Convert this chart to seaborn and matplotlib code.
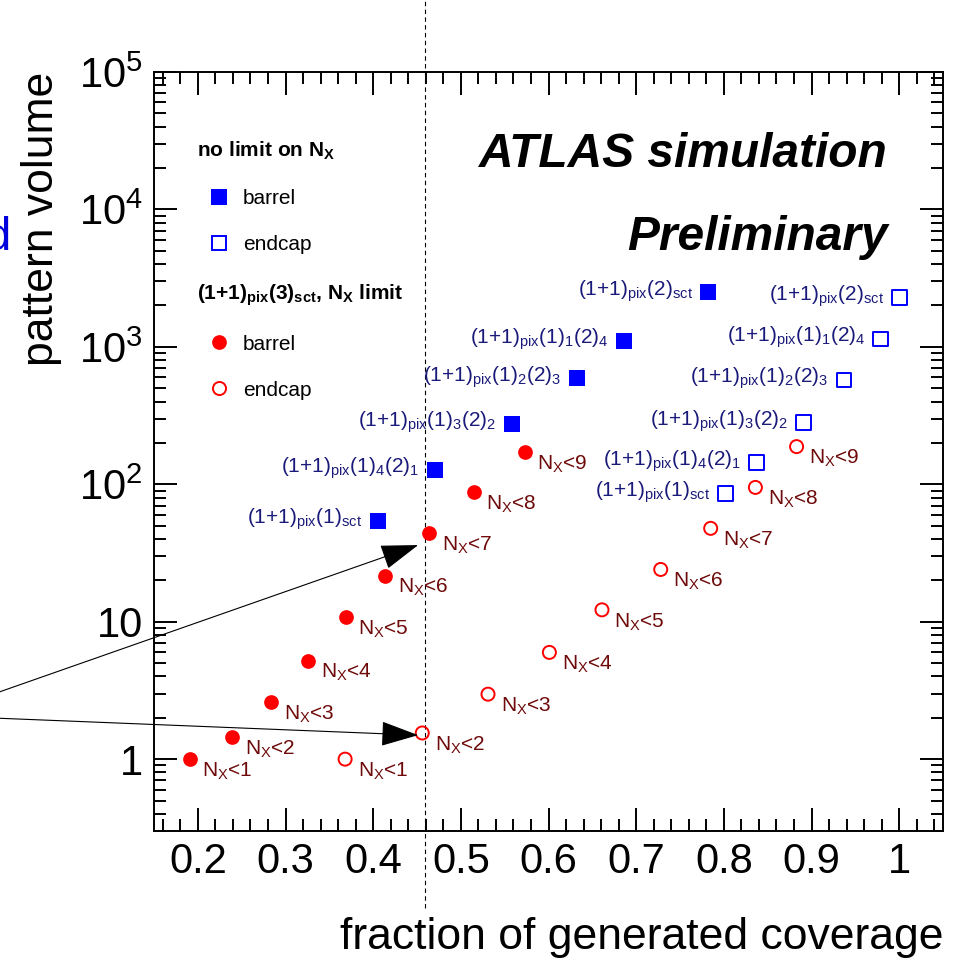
import numpy as np
import pandas as pd
import matplotlib
matplotlib.use("Agg")
import matplotlib.pyplot as plt
from matplotlib.lines import Line2D
from matplotlib.ticker import FixedLocator, MultipleLocator, LogLocator, NullFormatter
import seaborn as sns


# Values ------------------------------------------------------------------------------------------

# no limit on N_X, barrel / endcap (squares)
cover_barrel_nolimit = [0.405, 0.470, 0.558, 0.632, 0.686, 0.782]
volume_barrel_nolimit = [54, 127, 274, 590, 1110, 2490]
cover_endcap_nolimit = [0.802, 0.837, 0.891, 0.937, 0.979, 1.000]
volume_endcap_nolimit = [86, 144, 282, 573, 1140, 2290]
pattern_labels = [
    r"(1+1)$_{\mathregular{pix}}$(1)$_{\mathregular{sct}}$",
    r"(1+1)$_{\mathregular{pix}}$(1)$_{\mathregular{4}}$(2)$_{\mathregular{1}}$",
    r"(1+1)$_{\mathregular{pix}}$(1)$_{\mathregular{3}}$(2)$_{\mathregular{2}}$",
    r"(1+1)$_{\mathregular{pix}}$(1)$_{\mathregular{2}}$(2)$_{\mathregular{3}}$",
    r"(1+1)$_{\mathregular{pix}}$(1)$_{\mathregular{1}}$(2)$_{\mathregular{4}}$",
    r"(1+1)$_{\mathregular{pix}}$(2)$_{\mathregular{sct}}$",
]

# (1+1)pix(3)sct with N_X limit, barrel / endcap (circles)
cover_barrel_nx = [0.191, 0.239, 0.284, 0.326, 0.369, 0.414, 0.464, 0.515, 0.573]
volume_barrel_nx = [1.0, 1.45, 2.6, 5.2, 10.8, 21.6, 43.9, 87.7, 172]
cover_endcap_nx = [0.368, 0.456, 0.531, 0.601, 0.661, 0.728, 0.785, 0.836, 0.883]
volume_endcap_nx = [1.0, 1.55, 2.97, 5.98, 12.2, 24.0, 47.8, 94.9, 188]
nx_labels = [
    r"N$_{\mathregular{X}}$<1", r"N$_{\mathregular{X}}$<2", r"N$_{\mathregular{X}}$<3",
    r"N$_{\mathregular{X}}$<4", r"N$_{\mathregular{X}}$<5", r"N$_{\mathregular{X}}$<6",
    r"N$_{\mathregular{X}}$<7", r"N$_{\mathregular{X}}$<8", r"N$_{\mathregular{X}}$<9",
]

coverage_cut = 0.459

# arrows coming in from the left edge, pointing at N_X<7 barrel and N_X<2 endcap
arrow_tip_cover = [0.4513, 0.4513]
arrow_tip_volume = [36.1, 1.495]
arrow_start_fig_y = [0.2729, 0.2534]

x_ticks = [0.2, 0.3, 0.4, 0.5, 0.6, 0.7, 0.8, 0.9, 1.0]
x_tick_labels = ["0.2", "0.3", "0.4", "0.5", "0.6", "0.7", "0.8", "0.9", "1"]
y_ticks = [1, 10, 100, 1000, 10000, 100000]
y_tick_labels = ["1", "10", r"$\mathregular{10^{2}}$", r"$\mathregular{10^{3}}$",
                 r"$\mathregular{10^{4}}$", r"$\mathregular{10^{5}}$"]


# Build frames ------------------------------------------------------------------------------------

df_sq_barrel = pd.DataFrame({"coverage": cover_barrel_nolimit, "volume": volume_barrel_nolimit,
                             "label": pattern_labels})
df_sq_endcap = pd.DataFrame({"coverage": cover_endcap_nolimit, "volume": volume_endcap_nolimit,
                             "label": pattern_labels})
df_c_barrel = pd.DataFrame({"coverage": cover_barrel_nx, "volume": volume_barrel_nx, "label": nx_labels})
df_c_endcap = pd.DataFrame({"coverage": cover_endcap_nx, "volume": volume_endcap_nx, "label": nx_labels})


# Plot --------------------------------------------------------------------------------------------

sns.set_style("ticks")
plt.rcParams["font.family"] = ["Liberation Sans", "DejaVu Sans"]
plt.rcParams["mathtext.fontset"] = "custom"
plt.rcParams["mathtext.rm"] = "Liberation Sans"
plt.rcParams["mathtext.it"] = "Liberation Sans:italic"
plt.rcParams["mathtext.bf"] = "Liberation Sans:bold"
for key in ["text.color", "axes.labelcolor", "xtick.color", "ytick.color", "axes.edgecolor"]:
    plt.rcParams[key] = "black"

blue = "#0000ff"
red = "#ff0000"
blue_text = "#1a1a7a"
red_text = "#6e0a0a"

fig = plt.figure(figsize=(9.55, 9.61), dpi=100)
ax = fig.add_axes([154 / 955, 1 - 831 / 961, (943 - 154) / 955, (831 - 72) / 961])

sns.scatterplot(data=df_sq_barrel, x="coverage", y="volume", marker="s", color=blue,
                edgecolor=blue, linewidth=0, s=132, ax=ax, zorder=3)
sns.scatterplot(data=df_sq_endcap, x="coverage", y="volume", marker="s", color=blue,
                facecolor="none", edgecolor=blue, linewidth=1.4, s=112, ax=ax, zorder=3)
sns.scatterplot(data=df_c_barrel, x="coverage", y="volume", marker="o", color=red,
                edgecolor=red, linewidth=0, s=112, ax=ax, zorder=3)
sns.scatterplot(data=df_c_endcap, x="coverage", y="volume", marker="o", color=red,
                facecolor="none", edgecolor=red, linewidth=1.4, s=88, ax=ax, zorder=3)

ax.set_yscale("log")
ax.set_xlim(0.15, 1.05)
ax.set_ylim(0.3, 1e5)

# point labels
for df in [df_sq_barrel, df_sq_endcap]:
    for _, row in df.iterrows():
        ax.annotate(row["label"], (row["coverage"], row["volume"]), xytext=(-11, 1),
                    textcoords="offset points", ha="right", va="center", fontsize=15,
                    color=blue_text)
for df in [df_c_barrel, df_c_endcap]:
    for _, row in df.iterrows():
        ax.annotate(row["label"], (row["coverage"], row["volume"]), xytext=(9, -1),
                    textcoords="offset points", ha="left", va="top", fontsize=15,
                    color=red_text)

# arrows
for tx, ty, sy in zip(arrow_tip_cover, arrow_tip_volume, arrow_start_fig_y):
    ax.annotate("", xy=(tx, ty), xycoords="data", xytext=(-0.021, sy), textcoords="figure fraction",
                arrowprops=dict(arrowstyle="-|>,head_length=2.4,head_width=0.8", mutation_scale=10,
                                color="black", lw=0.8, shrinkA=0, shrinkB=0),
                annotation_clip=False, zorder=4)

# dashed reference line, running past the frame
ax.axvline(coverage_cut, ymin=-0.101, ymax=1.1, color="black", lw=0.8, ls=(0, (4, 3)),
           clip_on=False, zorder=1)

# axes styling
ax.xaxis.set_major_locator(FixedLocator(x_ticks))
ax.set_xticklabels(x_tick_labels)
ax.xaxis.set_minor_locator(MultipleLocator(0.02))
ax.yaxis.set_major_locator(FixedLocator(y_ticks))
ax.set_yticklabels(y_tick_labels)
ax.yaxis.set_minor_locator(LogLocator(base=10, subs=np.arange(2, 10)))
ax.yaxis.set_minor_formatter(NullFormatter())

ax.tick_params(which="both", direction="in", top=True, right=True, width=1.4, color="black")
ax.tick_params(which="major", length=16.5, labelsize=30, pad=8, labelcolor="black")
ax.tick_params(which="minor", length=8.6)
for sp in ax.spines.values():
    sp.set_linewidth(1.4)
    sp.set_color("black")

ax.set_xlabel("fraction of generated coverage", fontsize=32, loc="right", color="black")
ax.xaxis.set_label_coords(1.0, -0.113)
ax.set_ylabel("pattern volume", fontsize=32, loc="top", color="black")
ax.yaxis.set_label_coords(-0.117, 1.0)

ax.text(0.930, 0.875, "ATLAS simulation", transform=ax.transAxes, ha="right", va="baseline",
        fontsize=34.5, fontweight="bold", fontstyle="italic", color="black")
ax.text(0.930, 0.7655, "Preliminary", transform=ax.transAxes, ha="right", va="baseline",
        fontsize=34.5, fontweight="bold", fontstyle="italic", color="black")

# legend: two blocks with bold headers
h_bar_sq = Line2D([], [], ls="", marker="s", ms=11.5, mfc=blue, mec=blue, mew=0)
h_end_sq = Line2D([], [], ls="", marker="s", ms=10.6, mfc="none", mec=blue, mew=1.4)
h_bar_c = Line2D([], [], ls="", marker="o", ms=10.6, mfc=red, mec=red, mew=0)
h_end_c = Line2D([], [], ls="", marker="o", ms=9.4, mfc="none", mec=red, mew=1.4)
leg_kw = dict(frameon=False, fontsize=15, borderpad=0, borderaxespad=0, handlelength=2.1,
              handletextpad=0.1, labelspacing=1.3, alignment="left", loc="upper left",
              labelcolor="black", title_fontproperties={"weight": "bold", "size": 15})
leg1 = ax.legend([h_bar_sq, h_end_sq], ["barrel", "endcap"],
                 title=r"no limit on N$_{\mathregular{X}}$",
                 bbox_to_anchor=(0.0545, 0.9104), **leg_kw)
leg1.get_title().set_color("black")
ax.add_artist(leg1)
leg2 = ax.legend([h_bar_c, h_end_c], ["barrel", "endcap"],
                 title=r"(1+1)$_{\mathregular{pix}}$(3)$_{\mathregular{sct}}$, N$_{\mathregular{X}}$ limit",
                 bbox_to_anchor=(0.0545, 0.7233), **leg_kw)
leg2.get_title().set_color("black")

# cropped blue text at the left edge
fig.text(11 / 955, 1 - 250 / 961, "d", color="#0000dd", fontsize=34, ha="right", va="baseline")

fig.savefig("out.png", dpi=100)
